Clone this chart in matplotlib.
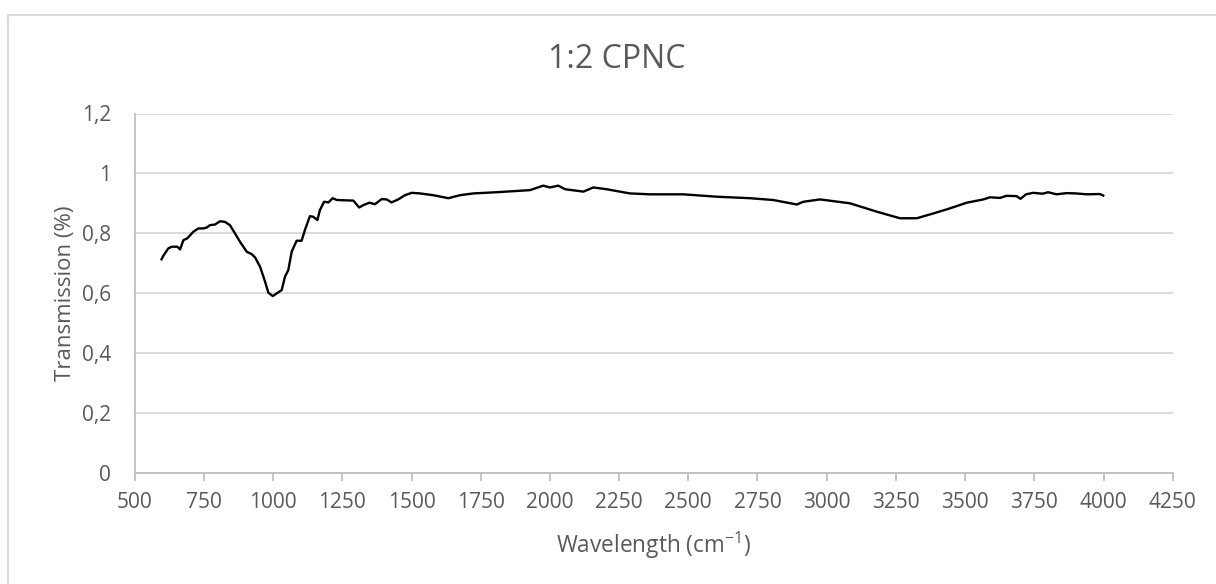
import matplotlib
matplotlib.use("Agg")
import matplotlib.pyplot as plt
from matplotlib.lines import Line2D

# ---- data ----
wavenumber = [597, 603, 621, 634, 654, 664, 676, 690, 712, 730, 748, 760, 772, 790,
              808, 826, 844, 862, 880, 905, 923, 935, 953, 971, 983, 999, 1013, 1031,
              1043, 1055, 1067, 1085, 1103, 1115, 1133, 1145, 1160, 1169, 1184, 1200,
              1215, 1230, 1290, 1311, 1326, 1348, 1368, 1392, 1410, 1428, 1452, 1476,
              1501, 1531, 1579, 1633, 1675, 1723, 1808, 1928, 1976, 2000, 2030, 2055,
              2121, 2157, 2205, 2289, 2362, 2482, 2603, 2723, 2807, 2892, 2915, 2976,
              3084, 3181, 3265, 3325, 3385, 3445, 3506, 3566, 3590, 3626, 3650, 3686,
              3700, 3720, 3746, 3780, 3800, 3830, 3867, 3900, 3940, 3987, 3999]
transmission = [0.713, 0.724, 0.749, 0.755, 0.755, 0.746, 0.777, 0.783, 0.805, 0.816,
                0.816, 0.819, 0.827, 0.829, 0.840, 0.838, 0.827, 0.800, 0.772, 0.738,
                0.730, 0.719, 0.688, 0.638, 0.601, 0.590, 0.599, 0.610, 0.655, 0.677,
                0.738, 0.775, 0.775, 0.811, 0.857, 0.855, 0.844, 0.877, 0.905, 0.903,
                0.917, 0.911, 0.909, 0.886, 0.894, 0.902, 0.897, 0.914, 0.913, 0.903,
                0.913, 0.927, 0.935, 0.933, 0.927, 0.917, 0.927, 0.933, 0.937, 0.944,
                0.959, 0.953, 0.959, 0.947, 0.939, 0.953, 0.947, 0.933, 0.930, 0.930,
                0.922, 0.917, 0.911, 0.896, 0.905, 0.913, 0.900, 0.872, 0.850, 0.850,
                0.866, 0.883, 0.902, 0.913, 0.920, 0.918, 0.925, 0.924, 0.915, 0.930,
                0.935, 0.932, 0.937, 0.930, 0.934, 0.933, 0.930, 0.931, 0.926]

x_ticks = [500, 750, 1000, 1250, 1500, 1750, 2000, 2250, 2500, 2750, 3000,
           3250, 3500, 3750, 4000, 4250]
y_ticks = [0, 0.2, 0.4, 0.6, 0.8, 1.0, 1.2]
y_tick_labels = ["0", "0,2", "0,4", "0,6", "0,8", "1", "1,2"]

title = "1:2 CPNC"
x_label = "Wavelength (cm$^{-1}$)"
y_label = "Transmission (%)"

# ---- style ----
plt.rcParams['font.family'] = ['Open Sans', 'DejaVu Sans']
plt.rcParams['mathtext.default'] = 'regular'
text_color = '#595959'
grid_color = '#d9d9d9'
axis_color = '#bfbfbf'

W, H = 1216, 584
fig = plt.figure(figsize=(W / 100, H / 100), dpi=100)
fig.patch.set_facecolor('white')

left, right = 134.7 / W, 1172.7 / W
top, bottom = 1 - 113.5 / H, 1 - 472.7 / H
ax = fig.add_axes([left, bottom, right - left, top - bottom])

ax.plot(wavenumber, transmission, color='black', lw=1.7)

ax.set_xlim(500, 4250)
ax.set_ylim(0, 1.2)
ax.set_xticks(x_ticks)
ax.set_xticklabels([str(t) for t in x_ticks])
ax.set_yticks(y_ticks)
ax.set_yticklabels(y_tick_labels)

ax.grid(axis='y', color=grid_color, lw=1.3)
ax.set_axisbelow(True)
for s in ['top', 'right']:
    ax.spines[s].set_visible(False)
for s in ['left', 'bottom']:
    ax.spines[s].set_color(axis_color)
    ax.spines[s].set_linewidth(1.3)

ax.tick_params(axis='x', colors=axis_color, length=6, width=1.3, direction='out',
               labelcolor=text_color, labelsize=15, pad=8)
ax.tick_params(axis='y', length=0, labelcolor=text_color, labelsize=15, pad=17)

fig.text(617 / W, 1 - 60 / H, title, fontsize=23, color=text_color,
         ha='center', va='center')
ax.set_xlabel(x_label, fontsize=16.3, color=text_color, labelpad=12)
ax.set_ylabel(y_label, fontsize=16, color=text_color, labelpad=4)

# outer chart border (left and top visible)
fig.add_artist(Line2D([8 / W, 8 / W], [0, 1 - 15 / H], transform=fig.transFigure,
                      color=grid_color, lw=1.5))
fig.add_artist(Line2D([8 / W, 1], [1 - 15 / H, 1 - 15 / H], transform=fig.transFigure,
                      color=grid_color, lw=1.5))

fig.savefig('out.png', dpi=100)
